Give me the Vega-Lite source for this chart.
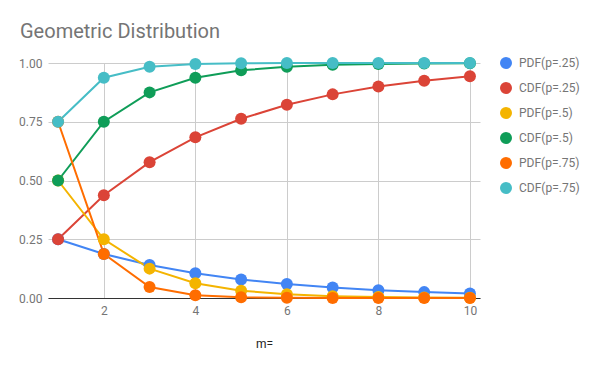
{
  "$schema": "https://vega.github.io/schema/vega-lite/v6.json",
  "width": 432,
  "height": 235,
  "autosize": {"type": "none"},
  "padding": {"left": 48, "top": 63, "right": 120, "bottom": 73},
  "background": "white",
  "config": {
    "font": "Roboto",
    "view": {"stroke": null}
  },
  "title": {
    "text": "Geometric Distribution",
    "anchor": "start",
    "frame": "group",
    "dx": -28,
    "offset": -1,
    "baseline": "alphabetic",
    "fontSize": 20,
    "fontWeight": "normal",
    "color": "#757575",
    "font": "Roboto"
  },
  "data": {
    "values": [
      {"m": 1, "series": "PDF(p=.25)", "v": 0.25},
      {"m": 2, "series": "PDF(p=.25)", "v": 0.1875},
      {"m": 3, "series": "PDF(p=.25)", "v": 0.140625},
      {"m": 4, "series": "PDF(p=.25)", "v": 0.105469},
      {"m": 5, "series": "PDF(p=.25)", "v": 0.079102},
      {"m": 6, "series": "PDF(p=.25)", "v": 0.059326},
      {"m": 7, "series": "PDF(p=.25)", "v": 0.044495},
      {"m": 8, "series": "PDF(p=.25)", "v": 0.033371},
      {"m": 9, "series": "PDF(p=.25)", "v": 0.025028},
      {"m": 10, "series": "PDF(p=.25)", "v": 0.018771},
      {"m": 1, "series": "CDF(p=.25)", "v": 0.25},
      {"m": 2, "series": "CDF(p=.25)", "v": 0.4375},
      {"m": 3, "series": "CDF(p=.25)", "v": 0.578125},
      {"m": 4, "series": "CDF(p=.25)", "v": 0.683594},
      {"m": 5, "series": "CDF(p=.25)", "v": 0.762695},
      {"m": 6, "series": "CDF(p=.25)", "v": 0.822021},
      {"m": 7, "series": "CDF(p=.25)", "v": 0.866516},
      {"m": 8, "series": "CDF(p=.25)", "v": 0.899887},
      {"m": 9, "series": "CDF(p=.25)", "v": 0.924915},
      {"m": 10, "series": "CDF(p=.25)", "v": 0.943686},
      {"m": 1, "series": "PDF(p=.5)", "v": 0.5},
      {"m": 2, "series": "PDF(p=.5)", "v": 0.25},
      {"m": 3, "series": "PDF(p=.5)", "v": 0.125},
      {"m": 4, "series": "PDF(p=.5)", "v": 0.0625},
      {"m": 5, "series": "PDF(p=.5)", "v": 0.03125},
      {"m": 6, "series": "PDF(p=.5)", "v": 0.015625},
      {"m": 7, "series": "PDF(p=.5)", "v": 0.0078125},
      {"m": 8, "series": "PDF(p=.5)", "v": 0.0039063},
      {"m": 9, "series": "PDF(p=.5)", "v": 0.0019531},
      {"m": 10, "series": "PDF(p=.5)", "v": 0.0009766},
      {"m": 1, "series": "CDF(p=.5)", "v": 0.5},
      {"m": 2, "series": "CDF(p=.5)", "v": 0.75},
      {"m": 3, "series": "CDF(p=.5)", "v": 0.875},
      {"m": 4, "series": "CDF(p=.5)", "v": 0.9375},
      {"m": 5, "series": "CDF(p=.5)", "v": 0.96875},
      {"m": 6, "series": "CDF(p=.5)", "v": 0.984375},
      {"m": 7, "series": "CDF(p=.5)", "v": 0.992188},
      {"m": 8, "series": "CDF(p=.5)", "v": 0.996094},
      {"m": 9, "series": "CDF(p=.5)", "v": 0.998047},
      {"m": 10, "series": "CDF(p=.5)", "v": 0.999023},
      {"m": 1, "series": "PDF(p=.75)", "v": 0.75},
      {"m": 2, "series": "PDF(p=.75)", "v": 0.1875},
      {"m": 3, "series": "PDF(p=.75)", "v": 0.046875},
      {"m": 4, "series": "PDF(p=.75)", "v": 0.011719},
      {"m": 5, "series": "PDF(p=.75)", "v": 0.00293},
      {"m": 6, "series": "PDF(p=.75)", "v": 0.000732},
      {"m": 7, "series": "PDF(p=.75)", "v": 0.000183},
      {"m": 8, "series": "PDF(p=.75)", "v": 0.0000458},
      {"m": 9, "series": "PDF(p=.75)", "v": 0.0000114},
      {"m": 10, "series": "PDF(p=.75)", "v": 0.0000029},
      {"m": 1, "series": "CDF(p=.75)", "v": 0.75},
      {"m": 2, "series": "CDF(p=.75)", "v": 0.9375},
      {"m": 3, "series": "CDF(p=.75)", "v": 0.984375},
      {"m": 4, "series": "CDF(p=.75)", "v": 0.996094},
      {"m": 5, "series": "CDF(p=.75)", "v": 0.999023},
      {"m": 6, "series": "CDF(p=.75)", "v": 0.999756},
      {"m": 7, "series": "CDF(p=.75)", "v": 0.999939},
      {"m": 8, "series": "CDF(p=.75)", "v": 0.999985},
      {"m": 9, "series": "CDF(p=.75)", "v": 0.999996},
      {"m": 10, "series": "CDF(p=.75)", "v": 0.999999}
    ]
  },
  "encoding": {
    "x": {
      "field": "m",
      "type": "quantitative",
      "title": "m=",
      "scale": {"domain": [0.78, 10.22], "nice": false, "zero": false},
      "axis": {
        "values": [2, 4, 6, 8, 10],
        "grid": true,
        "gridColor": "#cccccc",
        "domain": true,
        "domainColor": "#333333",
        "ticks": false,
        "labelPadding": 7,
        "labelFontSize": 12,
        "labelColor": "#757575",
        "labelFont": "Roboto",
        "titleFont": "Roboto",
        "titleFontSize": 12,
        "titleFontWeight": "normal",
        "titleColor": "#222222",
        "titlePadding": 22
      }
    },
    "y": {
      "field": "v",
      "type": "quantitative",
      "title": null,
      "scale": {"domain": [0, 1], "nice": false},
      "axis": {
        "values": [0, 0.25, 0.5, 0.75, 1],
        "format": ".2f",
        "grid": true,
        "gridColor": "#cccccc",
        "domain": false,
        "ticks": false,
        "labelPadding": 6,
        "labelFontSize": 12,
        "labelColor": "#757575",
        "labelFont": "Roboto"
      }
    },
    "color": {
      "field": "series",
      "type": "nominal",
      "sort": ["PDF(p=.25)", "CDF(p=.25)", "PDF(p=.5)", "CDF(p=.5)", "PDF(p=.75)", "CDF(p=.75)"],
      "scale": {
        "domain": ["PDF(p=.25)", "CDF(p=.25)", "PDF(p=.5)", "CDF(p=.5)", "PDF(p=.75)", "CDF(p=.75)"],
        "range": ["#4285F4", "#DB4437", "#F4B400", "#0F9D58", "#FF6D00", "#46BDC6"]
      },
      "legend": {
        "title": null,
        "orient": "none",
        "legendX": 452,
        "legendY": -6,
        "symbolType": "circle",
        "symbolSize": 144,
        "symbolStrokeWidth": 0,
        "labelFontSize": 12,
        "labelColor": "#757575",
        "labelFont": "Roboto",
        "labelOffset": 7,
        "rowPadding": 13,
        "padding": 0
      }
    }
  },
  "layer": [
    {"mark": {"type": "line", "strokeWidth": 2}},
    {"mark": {"type": "point", "filled": true, "size": 144, "opacity": 1}}
  ]
}
